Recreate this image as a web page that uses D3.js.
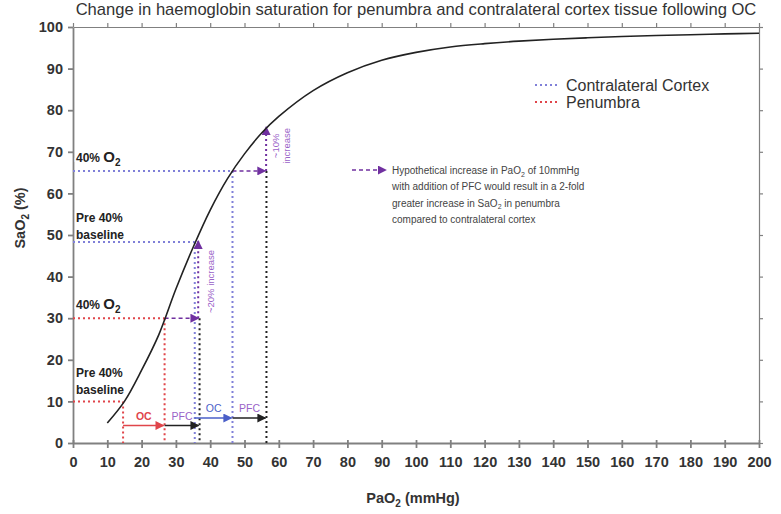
<!DOCTYPE html>
<html><head><meta charset="utf-8">
<script src="https://cdn.jsdelivr.net/npm/d3@7/dist/d3.min.js"></script>
<style>
html,body{margin:0;padding:0;background:#fff;}
svg{display:block;font-family:"Liberation Sans",Arial,sans-serif;}
</style></head>
<body><svg id="c" width="781" height="514"></svg>
<script>
// ---- data ----
const xTickValues = d3.range(0, 201, 10);
const yTickValues = d3.range(0, 101, 10);
const curvePaO2 = [10, 15, 20, 25, 30, 35, 40, 45, 50, 55, 60, 70, 80, 90, 100, 110, 120, 130, 140, 150, 160, 170, 180, 190, 200];
const curveSaO2 = [4.8, 10, 17.5, 26, 37, 47, 56, 63.5, 69.5, 74.5, 78.5, 84.7, 89.0, 92.0, 93.9, 95.2, 96.0, 96.6, 97.05, 97.4, 97.7, 97.95, 98.15, 98.35, 98.5];
const penumbraPaO2 = [14.6, 26.7];   // pre 40% baseline, 40% O2
const penumbraSaO2 = [10, 30];
const cortexPaO2 = [35.5, 46.5];
const cortexSaO2 = [48.3, 65.4];
const pfcPaO2 = [36.9, 56.4];        // +10 mmHg with PFC
const pfcSaO2 = [48.6, 76];
const increaseLabels = [["~20% increase"], ["~10%", "increase"]];
const stepArrowSaO2 = [4.2, 6.0];    // heights of the OC / PFC step arrows
const legendNames = ["Contralateral Cortex", "Penumbra"];
const hypothesisLines = [
  ["Hypothetical increase in PaO", "2", " of 10mmHg"],
  ["with addition of PFC would result in a 2-fold", "", ""],
  ["greater increase in SaO", "2", " in penumbra"],
  ["compared to contralateral cortex", "", ""]
];

// ---- setup ----
const svg = d3.select("#c");
const x = d3.scaleLinear().domain([0, 200]).range([73, 759]);
const y = d3.scaleLinear().domain([0, 100]).range([443, 27]);
const RED = "#e0454a", BLUE = "#8080d8", BLK = "#222", PURP = "#7030a0", PTXT = "#9a62c8", OCBLUE = "#4a5fc8";
const AX = "#808080";

const defs = svg.append("defs");
function marker(id, color) {
  defs.append("marker").attr("id", id).attr("viewBox", "0 0 10 10").attr("refX", 9).attr("refY", 5)
    .attr("markerWidth", 9).attr("markerHeight", 9).attr("markerUnits", "userSpaceOnUse").attr("orient", "auto")
    .append("path").attr("d", "M0,0L10,5L0,10z").attr("fill", color);
}
marker("mRed", RED); marker("mBlk", BLK); marker("mPurp", PURP); marker("mBlue", OCBLUE);

// title
svg.append("text").attr("x", 416).attr("y", 15).attr("text-anchor", "middle")
  .attr("font-size", 16.6).attr("fill", "#333")
  .text("Change in haemoglobin saturation for penumbra and contralateral cortex tissue following OC");

// frame (top & right mirrored axes)
const topAxis = svg.append("g").attr("transform", `translate(0,${y(100)})`)
  .call(d3.axisTop(x).tickValues(xTickValues).tickSize(4).tickSizeOuter(0).tickFormat(""));
const rightAxis = svg.append("g").attr("transform", `translate(${x(200)},0)`)
  .call(d3.axisRight(y).tickValues(yTickValues).tickSize(4).tickSizeOuter(0).tickFormat(""));
[topAxis, rightAxis].forEach(g => { g.selectAll("path,line").attr("stroke", AX).attr("stroke-width", 1.2); });

// axes
const xa = svg.append("g").attr("transform", `translate(0,${y(0)})`)
  .call(d3.axisBottom(x).tickValues(xTickValues).tickSize(5).tickSizeOuter(0).tickPadding(9));
xa.selectAll(".tick").append("line").attr("y2", -3).attr("stroke", AX);
const ya = svg.append("g").attr("transform", `translate(${x(0)},0)`)
  .call(d3.axisLeft(y).tickValues(yTickValues).tickSize(5).tickSizeOuter(0).tickPadding(5));
[xa, ya].forEach(g => {
  g.selectAll("path,line").attr("stroke", AX).attr("stroke-width", 1.8);
  g.selectAll("text").attr("font-size", 14.5).attr("font-weight", "bold").attr("fill", "#333")
    .attr("font-family", "Liberation Sans, Arial, sans-serif");
});

// axis titles
const xt = svg.append("text").attr("x", 413).attr("y", 503).attr("text-anchor", "middle")
  .attr("font-size", 14.5).attr("font-weight", "bold").attr("fill", "#333");
xt.append("tspan").text("PaO");
xt.append("tspan").attr("font-size", 10).attr("dy", 4).text("2");
xt.append("tspan").attr("dy", -4).text(" (mmHg)");
const yt = svg.append("text").attr("transform", "translate(25,218) rotate(-90)").attr("text-anchor", "middle")
  .attr("font-size", 14.5).attr("font-weight", "bold").attr("fill", "#333");
yt.append("tspan").text("SaO");
yt.append("tspan").attr("font-size", 10).attr("dy", 4).text("2");
yt.append("tspan").attr("dy", -4).text(" (%)");

// guide lines
const plot = svg.append("g");
function seg(x1, y1, x2, y2, color, dash, mk, w) {
  const l = plot.append("line").attr("x1", x(x1)).attr("y1", y(y1)).attr("x2", x(x2)).attr("y2", y(y2))
    .attr("stroke", color).attr("stroke-width", w || 2).attr("stroke-dasharray", dash || "2,3");
  if (mk) l.attr("marker-end", `url(#${mk})`);
  return l;
}
// penumbra (red)
penumbraPaO2.forEach((p, i) => {
  seg(0, penumbraSaO2[i], p, penumbraSaO2[i], RED);
  seg(p, penumbraSaO2[i], p, 0, RED);
});
// contralateral cortex (blue)
cortexPaO2.forEach((p, i) => {
  seg(0, cortexSaO2[i], p, cortexSaO2[i], BLUE);
  seg(p, cortexSaO2[i], p, 0, BLUE);
});
// PFC black verticals
seg(pfcPaO2[0], penumbraSaO2[1], pfcPaO2[0], 0, BLK);
seg(pfcPaO2[1], cortexSaO2[1], pfcPaO2[1], 0, BLK);

// hypothetical PFC arrows (purple)
seg(penumbraPaO2[1], penumbraSaO2[1], pfcPaO2[0] - 0.3, penumbraSaO2[1], PURP, "4,3", "mPurp", 1.6);
seg(cortexPaO2[1], cortexSaO2[1], pfcPaO2[1] - 0.3, cortexSaO2[1], PURP, "4,3", "mPurp", 1.6);
seg(pfcPaO2[0] - 0.4, penumbraSaO2[1], pfcPaO2[0] - 0.4, pfcSaO2[0], PURP, "2,3", "mPurp", 2);
seg(pfcPaO2[1] - 0.1, cortexSaO2[1], pfcPaO2[1] - 0.1, pfcSaO2[1], PURP, "2,3", "mPurp", 2);

// curve
const line = d3.line().x(d => x(d[0])).y(d => y(d[1])).curve(d3.curveCatmullRom.alpha(0.5));
plot.append("path").datum(curvePaO2.map((p, i) => [p, curveSaO2[i]]))
  .attr("d", line).attr("fill", "none").attr("stroke", "#222").attr("stroke-width", 1.6);

// step arrows OC / PFC
function step(x1, x2, h, color, mk, label, lcolor, bold) {
  plot.append("line").attr("x1", x(x1)).attr("x2", x(x2) - 1).attr("y1", y(h)).attr("y2", y(h))
    .attr("stroke", color).attr("stroke-width", 1.6).attr("marker-end", `url(#${mk})`);
  plot.append("text").attr("x", (x(x1) + x(x2)) / 2).attr("y", y(h) - 6).attr("text-anchor", "middle")
    .attr("font-size", 10.5).attr("font-weight", bold ? "bold" : "normal").attr("fill", lcolor).text(label);
}
step(penumbraPaO2[0], penumbraPaO2[1], stepArrowSaO2[0], RED, "mRed", "OC", RED, true);
step(penumbraPaO2[1], pfcPaO2[0], stepArrowSaO2[0], BLK, "mBlk", "PFC", PTXT, false);
step(cortexPaO2[0], cortexPaO2[1], stepArrowSaO2[1], OCBLUE, "mBlue", "OC", OCBLUE, false);
step(cortexPaO2[1], pfcPaO2[1], stepArrowSaO2[1], BLK, "mBlk", "PFC", PTXT, false);

// increase labels (rotated)
function rotLabel(px, py, lines) {
  const t = plot.append("text").attr("transform", `translate(${px},${py}) rotate(-90)`)
    .attr("text-anchor", "middle").attr("font-size", 9.5).attr("fill", PTXT);
  lines.forEach((s, i) => t.append("tspan").attr("x", 0).attr("dy", i ? 11 : 0).text(s));
}
rotLabel(x(pfcPaO2[0]) + 14, y((penumbraSaO2[1] + pfcSaO2[0]) / 2) + 2, increaseLabels[0]);
rotLabel(x(pfcPaO2[1]) + 13, y((cortexSaO2[1] + pfcSaO2[1]) / 2) - 3, increaseLabels[1]);

// left-side annotations
function leftLabel(py, parts) {
  const t = svg.append("text").attr("x", 76).attr("y", py).attr("font-size", 12).attr("font-weight", "bold")
    .attr("fill", "#222").attr("stroke", "#fff").attr("stroke-width", 3).attr("paint-order", "stroke");
  parts.forEach(p => {
    const s = t.append("tspan").text(p[0]);
    if (p[1]) s.attr("font-size", 15);
    if (p[2]) s.attr("font-size", 10).attr("dy", 4);
  });
}
leftLabel(y(cortexSaO2[1]) - 9, [["40% "], ["O", true], ["2", false, true]]);
leftLabel(y(cortexSaO2[0]) - 20, [["Pre 40%"]]);
leftLabel(y(cortexSaO2[0]) - 3, [["baseline"]]);
leftLabel(y(penumbraSaO2[1]) - 9, [["40% "], ["O", true], ["2", false, true]]);
leftLabel(y(penumbraSaO2[0]) - 24, [["Pre 40%"]]);
leftLabel(y(penumbraSaO2[0]) - 7, [["baseline"]]);

// legend
const lg = svg.append("g").attr("transform", "translate(535,85)");
[BLUE, RED].forEach((c, i) => {
  lg.append("line").attr("x1", 0).attr("x2", 22).attr("y1", i * 17).attr("y2", i * 17)
    .attr("stroke", c).attr("stroke-width", 2).attr("stroke-dasharray", "2,3");
  lg.append("text").attr("x", 31).attr("y", i * 17 + 5.5).attr("font-size", 16).attr("fill", "#333").text(legendNames[i]);
});

// hypothesis note
svg.append("line").attr("x1", 352).attr("x2", 386).attr("y1", 170).attr("y2", 170)
  .attr("stroke", PURP).attr("stroke-width", 1.6).attr("stroke-dasharray", "4,3").attr("marker-end", "url(#mPurp)");
const ht = svg.append("g").attr("transform", "translate(392,174)");
hypothesisLines.forEach((l, i) => {
  const t = ht.append("text").attr("y", i * 16.4).attr("font-size", 10).attr("fill", "#444");
  t.append("tspan").text(l[0]);
  if (l[1]) {
    t.append("tspan").attr("font-size", 7).attr("dy", 2.5).text(l[1]);
    t.append("tspan").attr("dy", -2.5).text(l[2]);
  }
});
</script></body></html>
